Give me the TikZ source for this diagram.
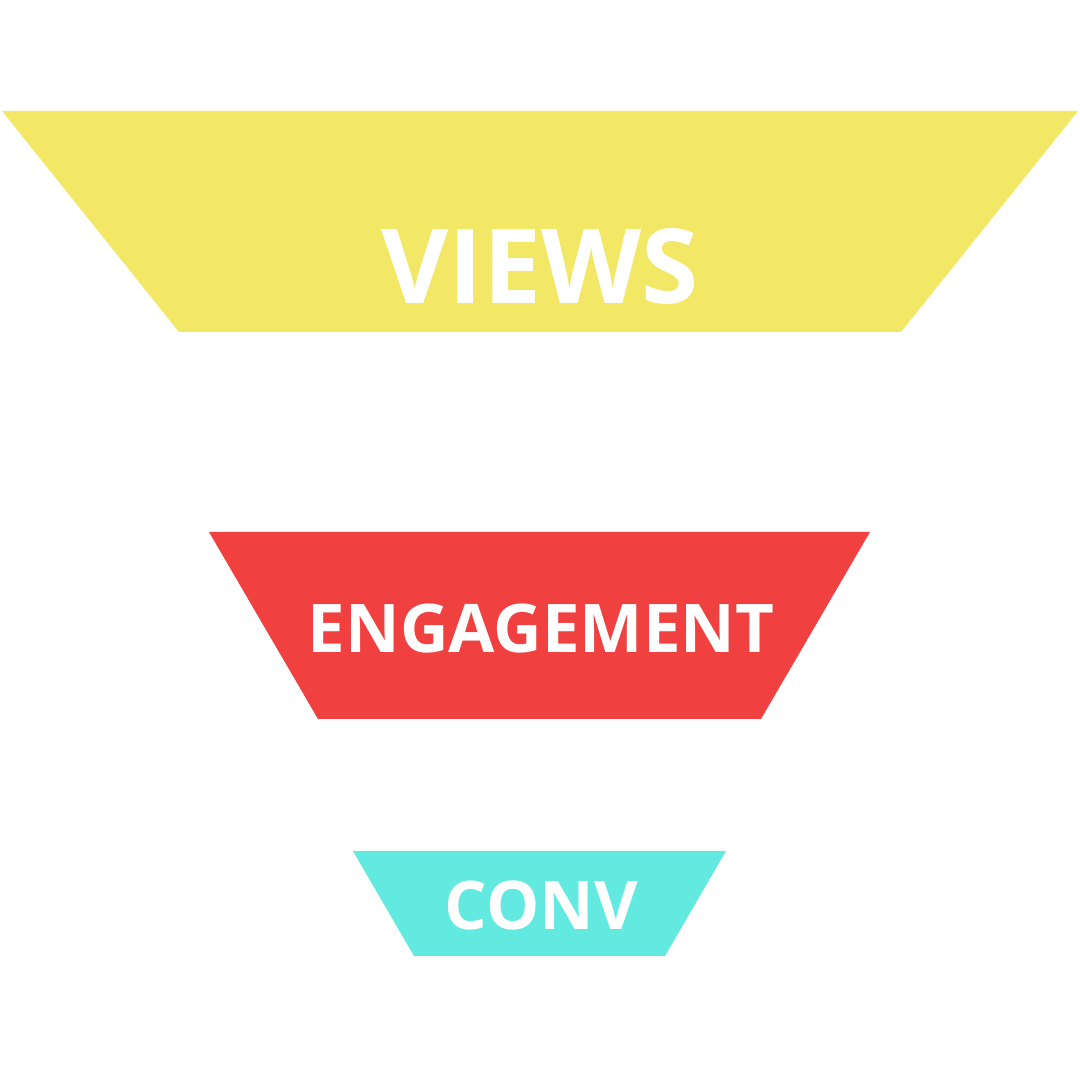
\documentclass[tikz,border=0pt]{standalone}
\usepackage{fontspec}
\setmainfont{Open Sans}
\usepackage{tikz}
\usepackage{xcolor}
\definecolor{viewsyellow}{RGB}{242,232,102}
\definecolor{engagered}{RGB}{240,64,64}
\definecolor{convcyan}{RGB}{98,233,224}

\tikzset{
  stage/.style={font=\bfseries, text=white, inner sep=0pt, anchor=base}
}

\begin{document}
\begin{tikzpicture}[line join=round]
\useasboundingbox (0,0) rectangle (10.8,10.8);
% top stage
\fill[viewsyellow] (0.02,9.69) -- (10.78,9.69) -- (9.01,7.48) -- (1.79,7.48) -- cycle;
\node[stage,font=\fontsize{29.5}{30}\selectfont\bfseries] (views) at (5.40,7.765) {VIEWS};
% middle stage
\fill[engagered] (2.09,5.48) -- (8.70,5.48) -- (7.61,3.61) -- (3.18,3.61) -- cycle;
\node[stage,font=\fontsize{19.1}{20}\selectfont\bfseries] (engagement) at (5.41,4.27) {ENGAGEMENT};
% bottom stage
\fill[convcyan] (3.53,2.29) -- (7.26,2.29) -- (6.65,1.24) -- (4.14,1.24) -- cycle;
\node[stage,font=\fontsize{19.1}{20}\selectfont\bfseries] (conv) at (5.415,1.50) {CONV};
\end{tikzpicture}
\end{document}
